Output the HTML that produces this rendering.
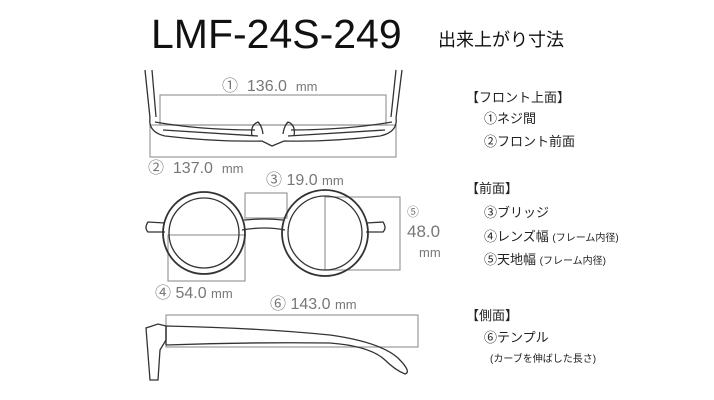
<!DOCTYPE html>
<html><head><meta charset="utf-8"><style>
body{margin:0;background:#fff;}
.w{position:relative;width:714px;height:400px;overflow:hidden;font-family:"Liberation Sans","Noto Sans CJK JP",sans-serif;}
.t{position:absolute;white-space:nowrap;line-height:1;}
.g{color:#777;}
.r{color:#222;font-size:13px;}
</style></head><body><div class="w">
<div class="t" style="left:151px;top:14px;font-size:41px;color:#111;letter-spacing:0px;">LMF-24S-249</div>
<div class="t" style="left:438px;top:31px;font-size:18px;color:#111;">出来上がり寸法</div>

<svg width="714" height="400" style="position:absolute;left:0;top:0">
<g fill="none" stroke="#999" stroke-width="1.2">
<rect x="160" y="95" width="226" height="30"/>
<rect x="150" y="125" width="246" height="32"/>
<rect x="245" y="193" width="42" height="25"/>
<rect x="325" y="197" width="75" height="73"/>
<rect x="168" y="235" width="77" height="46"/>
<rect x="166" y="315" width="252" height="32"/>
</g>
<g fill="none" stroke="#333" stroke-width="1.3">
<path d="M145 70 L150 118 M152 70 L156 117"/>
<path d="M402 70 L396 118 M396 70 L391 117"/>
<path d="M150 118 Q148 132 165 136 Q215 142 262 141 L272 146 L284 141 Q330 142 380 136 Q398 132 396 118"/>
<path d="M155 122 Q200 130 255 130 M291 130 Q345 130 392 122"/>
<path d="M163 130 L258 136 M288 136 L385 130"/>
<path d="M252 136 Q250 125 258 122 Q262 126 263 134 M294 136 Q296 125 288 122 Q284 126 283 134"/>
<circle cx="204" cy="233" r="41" stroke-width="1.8"/>
<circle cx="204" cy="233" r="35"/>
<circle cx="325" cy="233" r="43" stroke-width="1.8"/>
<circle cx="325" cy="233" r="37"/>
<path d="M165 223 L148 222 Q144 228 148 232 L165 232"/>
<path d="M366 223 L383 222 Q387 228 383 232 L366 232"/>
<path d="M244 220 Q265 218 283 220 M242 230 Q265 226 285 230"/>
<path d="M146 328 L150 380 L158 380 L160 350 L166 340 L166 326 L158 324 Z"/>
<path d="M166 326 L166 345 M166 326 Q260 328 330 335 Q380 342 398 358 Q412 372 405 374 Q395 370 385 360 Q370 346 330 343 Q250 342 166 345"/>
</g>
</svg>

<div class="t g" style="left:222px;top:79px;font-size:16px;">①&nbsp; 136.0&nbsp; <span style="font-size:13px">mm</span></div>
<div class="t g" style="left:148px;top:161px;font-size:16px;">②&nbsp; 137.0&nbsp; <span style="font-size:13px">mm</span></div>
<div class="t g" style="left:266px;top:173px;font-size:16px;">③ 19.0 <span style="font-size:13px">mm</span></div>
<div class="t g" style="left:407px;top:206px;font-size:12px;">⑤</div>
<div class="t g" style="left:407px;top:223px;font-size:17px;">48.0</div>
<div class="t g" style="left:419px;top:246px;font-size:13px;">mm</div>
<div class="t g" style="left:155px;top:286px;font-size:16px;">④ 54.0 <span style="font-size:13px">mm</span></div>
<div class="t g" style="left:270px;top:297px;font-size:16px;">⑥ 143.0 <span style="font-size:13px">mm</span></div>

<div class="t r" style="left:466px;top:91px;">【フロント上面】</div>
<div class="t r" style="left:484px;top:112px;">①ネジ間</div>
<div class="t r" style="left:484px;top:135px;">②フロント前面</div>
<div class="t r" style="left:466px;top:182px;">【前面】</div>
<div class="t r" style="left:484px;top:206px;">③ブリッジ</div>
<div class="t r" style="left:484px;top:230px;">④レンズ幅 <span style="font-size:10px">(フレーム内径)</span></div>
<div class="t r" style="left:484px;top:253px;">⑤天地幅 <span style="font-size:10px">(フレーム内径)</span></div>
<div class="t r" style="left:466px;top:309px;">【側面】</div>
<div class="t r" style="left:484px;top:331px;">⑥テンプル</div>
<div class="t r" style="left:490px;top:355px;font-size:10px;">(カーブを伸ばした長さ)</div>
</div></body></html>
